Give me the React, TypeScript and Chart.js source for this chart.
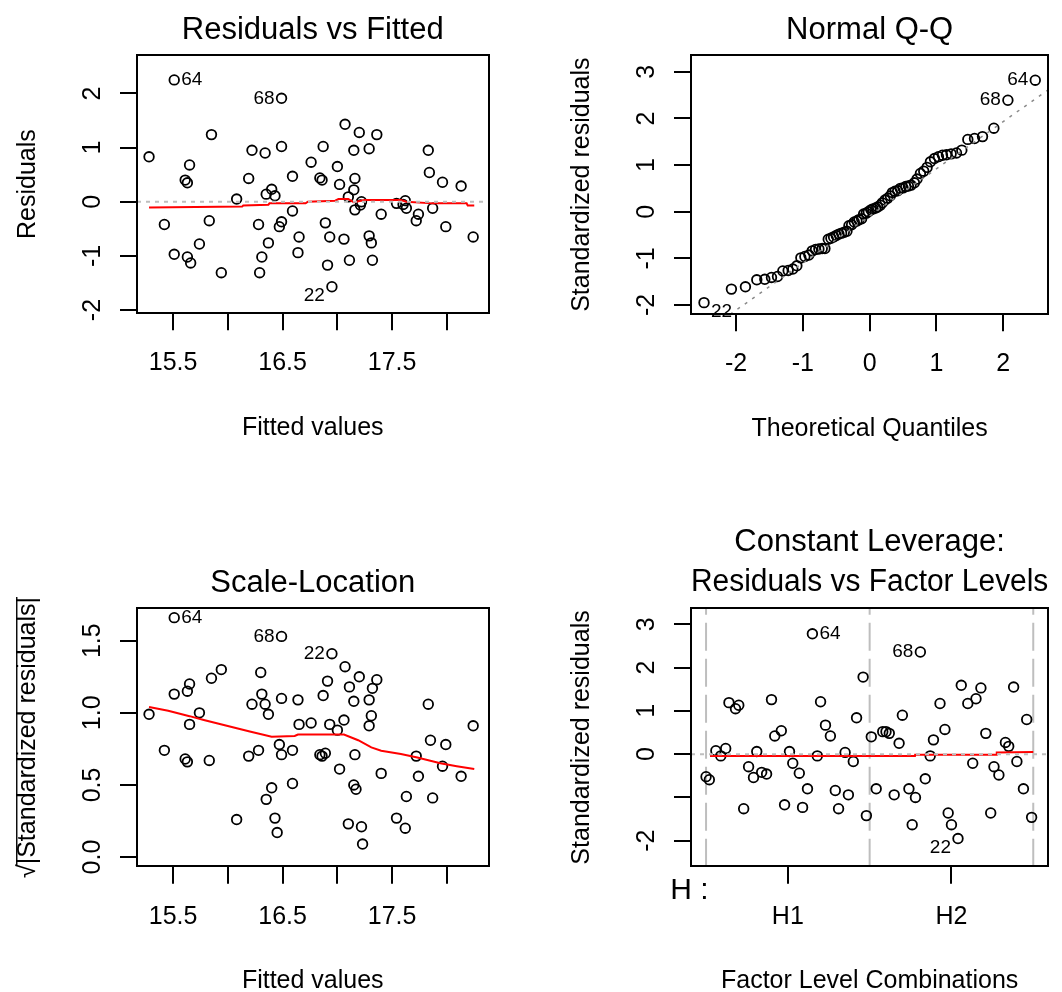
import React, { useEffect, useRef } from 'react';
import { Chart, registerables } from 'chart.js';

Chart.register(...registerables);

const FONT = '"Liberation Sans", Arial, Helvetica, sans-serif';
const TITLE_SIZE = 31;
const LABEL_SIZE = 25;
const ID_SIZE = 19;

// ---------- Panel 1: Residuals vs Fitted ----------
const rvfFitted = [
  15.28, 15.51, 15.42, 15.51, 15.65, 15.61, 15.63, 15.63, 15.66, 15.74,
  15.83, 15.85, 15.94, 16.08, 16.19, 16.22, 16.28, 16.29, 16.31, 16.34,
  16.35, 16.37, 16.40, 16.43, 16.47, 16.49, 16.49, 16.49, 16.59, 16.59,
  16.64, 16.65, 16.76, 16.84, 16.86, 16.87, 16.89, 16.91, 16.93, 16.95,
  17.00, 17.02, 17.06, 17.07, 17.11, 17.10, 17.15, 17.16, 17.15, 17.16,
  17.20, 17.22, 17.21, 17.29, 17.29, 17.31, 17.32, 17.36, 17.40, 17.54,
  17.62, 17.63, 17.72, 17.74, 17.83, 17.84, 17.87, 17.96, 17.99, 18.13,
  18.24, 17.60,
];
const rvfResiduals = [
  0.83, 2.25, -0.42, -0.97, 0.68, 0.40, 0.35, -1.02, -1.13, -0.78,
  -0.35, 1.24, -1.31, 0.05, 0.43, 0.95, -0.42, -1.31, -1.02, 0.90,
  0.14, -0.76, 0.23, 0.11, -0.46, -0.37, 1.91, 1.02, 0.47, -0.17,
  -0.94, -0.65, 0.73, 0.44, 0.40, 1.02, -0.39, -1.17, -0.65, -1.57,
  0.65, 0.32, -0.69, 1.43, -1.08, 0.09, 0.22, 0.43, 0.95, -0.15,
  1.28, 0.00, -0.06, 0.98, -0.63, -0.76, -1.08, 1.24, -0.23, -0.03,
  0.02, -0.12, -0.35, -0.23, 0.95, 0.54, -0.12, 0.36, -0.46, 0.29,
  -0.65, -0.05,
];
const rvfSmoothX = [15.28, 16.13, 16.14, 16.37, 16.38, 16.71, 16.73, 16.98, 17.01, 17.10, 17.15, 17.25, 17.58, 17.63, 17.87, 18.18, 18.19, 18.25];
const rvfSmoothY = [-0.105, -0.09, -0.07, -0.055, -0.03, -0.03, 0.0, 0.02, 0.05, 0.05, -0.01, 0.03, 0.03, 0.0, -0.03, -0.03, -0.07, -0.07];

// ---------- Panel 2: Normal Q-Q ----------
const qqTheoretical = [
  -2.48, -2.07, -1.86, -1.69, -1.57, -1.47, -1.38, -1.30, -1.22, -1.15,
  -1.09, -1.03, -0.97, -0.91, -0.86, -0.81, -0.76, -0.71, -0.67, -0.62,
  -0.58, -0.54, -0.50, -0.46, -0.42, -0.38, -0.34, -0.31, -0.27, -0.23,
  -0.19, -0.16, -0.12, -0.09, -0.05, -0.02,
  0.02, 0.05, 0.09, 0.12, 0.16, 0.19, 0.23, 0.27, 0.31, 0.34,
  0.38, 0.42, 0.46, 0.50, 0.54, 0.58, 0.62, 0.67, 0.71, 0.76,
  0.81, 0.86, 0.91, 0.97, 1.03, 1.09, 1.15, 1.22, 1.30, 1.38,
  1.47, 1.57, 1.69, 1.86, 2.07, 2.48,
];
const qqStdResiduals = [
  -1.95, -1.66, -1.61, -1.46, -1.45, -1.41, -1.39, -1.27, -1.26, -1.23,
  -1.16, -0.99, -0.96, -0.93, -0.84, -0.81, -0.80, -0.79, -0.79, -0.59,
  -0.57, -0.54, -0.51, -0.48, -0.46, -0.44, -0.42, -0.30, -0.28, -0.22,
  -0.20, -0.17, -0.15, -0.05, -0.03, 0.00,
  0.04, 0.06, 0.08, 0.10, 0.14, 0.19, 0.25, 0.29, 0.34, 0.41,
  0.44, 0.45, 0.50, 0.51, 0.54, 0.55, 0.57, 0.62, 0.70, 0.82,
  0.87, 0.95, 1.07, 1.14, 1.18, 1.21, 1.22, 1.24, 1.26, 1.32,
  1.55, 1.57, 1.61, 1.79, 2.39, 2.82,
];
const qqLineX = [-2.75, 2.75];
const qqLineY = [-2.87, 2.69];

// ---------- Panel 3: Scale-Location ----------
const slFitted = [
  15.28, 15.51, 15.42, 15.51, 15.65, 15.63, 15.65, 15.61, 15.63, 15.74,
  15.83, 15.85, 15.94, 16.08, 16.19, 16.22, 16.28, 16.30, 16.31, 16.34,
  16.37, 16.35, 16.40, 16.43, 16.45, 16.47, 16.49, 16.49, 16.49, 16.59,
  16.59, 16.64, 16.65, 16.76, 16.84, 16.86, 16.87, 16.91, 16.89, 16.93,
  16.95, 17.00, 17.02, 17.06, 17.07, 17.10, 17.11, 17.15, 17.16, 17.15,
  17.17, 17.20, 17.22, 17.23, 17.29, 17.29, 17.31, 17.32, 17.36, 17.40,
  17.54, 17.62, 17.63, 17.72, 17.74, 17.83, 17.85, 17.87, 17.96, 17.99,
  18.13, 18.24,
];
const slRootAbsStd = [
  0.99, 1.66, 0.74, 1.13, 1.20, 1.15, 0.92, 0.68, 0.66, 1.00,
  0.67, 1.24, 1.30, 0.26, 0.70, 1.06, 0.74, 1.28, 1.13, 1.06,
  0.99, 0.40, 0.48, 0.27, 0.17, 0.78, 0.71, 1.53, 1.10, 0.74,
  0.51, 1.09, 0.92, 0.93, 0.71, 0.70, 1.12, 1.22, 0.72, 0.92,
  1.41, 0.88, 0.61, 0.95, 1.32, 0.23, 1.18, 1.08, 0.71, 0.50,
  0.47, 1.25, 0.21, 0.09, 0.91, 1.09, 0.98, 1.17, 1.23, 0.58,
  0.27, 0.20, 0.42, 0.70, 0.56, 1.06, 0.81, 0.41, 0.63, 0.78,
  0.56, 0.91,
];
const slSmoothX = [15.28, 15.455, 15.65, 15.78, 15.99, 16.20, 16.40, 16.61, 16.64, 17.06, 17.19, 17.31, 17.40, 17.58, 17.73, 17.94, 18.09, 18.25];
const slSmoothY = [1.04, 1.014, 0.977, 0.95, 0.91, 0.87, 0.834, 0.84, 0.85, 0.85, 0.81, 0.76, 0.737, 0.714, 0.69, 0.65, 0.63, 0.61];

// ---------- Panel 4: Constant Leverage ----------
const rvlPosition = [
  0.50, 0.52, 0.56, 0.59, 0.62, 0.64, 0.68, 0.70, 0.73, 0.76,
  0.79, 0.81, 0.84, 0.87, 0.90, 0.92, 0.96, 0.98, 1.01, 1.03,
  1.07, 1.09, 1.12, 1.18, 1.15, 1.20, 1.23, 1.26, 1.29, 1.31,
  1.35, 1.37, 1.40, 1.42, 1.46, 1.48, 1.51, 1.54, 1.58, 1.60,
  1.62, 1.65, 1.68, 1.70, 1.74, 1.76, 1.78, 1.81, 1.84, 1.87,
  1.89, 1.93, 1.96, 1.98, 2.00, 2.04, 2.06, 2.10, 2.13, 2.15,
  2.18, 2.21, 2.24, 2.26, 2.29, 2.33, 2.35, 2.38, 2.40, 2.44,
  2.46, 2.49,
];
const rvlStdResiduals = [
  -0.52, -0.59, 0.08, -0.04, 0.13, 1.19, 1.05, 1.13, -1.26, -0.29,
  -0.54, 0.06, -0.42, -0.46, 1.26, 0.42, 0.54, -1.17, 0.06, -0.21,
  -0.44, -1.23, -0.80, -0.04, 2.78, 1.21, 0.67, 0.42, -0.84, -1.26,
  0.04, -0.94, -0.17, 0.84, 1.78, -1.42, 0.40, -0.80, 0.52, 0.52,
  0.48, -0.94, 0.25, 0.90, -0.80, -1.63, -1.00, 2.36, -0.57, -0.04,
  0.33, 1.17, 0.57, -1.36, -1.63, -1.95, 1.59, 1.17, -0.21, 1.28,
  1.53, 0.48, -1.36, -0.29, -0.48, 0.27, 0.18, 1.55, -0.17, -0.80,
  0.80, -1.46,
];
const rvlSmoothX = [0.524, 1.777, 1.778, 2.276, 2.277, 2.50];
const rvlSmoothY = [-0.04, -0.04, -0.015, -0.015, 0.04, 0.05];
const factorBoundaries = [0.5, 1.5, 2.5];
const factorTicks = [1, 2];
const factorLevels = ['H1', 'H2'];
const factorName = 'H :';

// ---------- Axis ticks ----------
const fittedTicks = [15.5, 16, 16.5, 17, 17.5, 18];
const fittedTickLabels = ['15.5', '', '16.5', '', '17.5', ''];
const residTicks = [-2, -1, 0, 1, 2];
const residTickLabels = ['-2', '-1', '0', '1', '2'];
const qqXTicks = [-2, -1, 0, 1, 2];
const qqXTickLabels = ['-2', '-1', '0', '1', '2'];
const stdTicks = [-2, -1, 0, 1, 2, 3];
const qqYTickLabels = ['-2', '-1', '0', '1', '2', '3'];
const rvlYTickLabels = ['-2', '', '0', '1', '2', '3'];
const slTicks = [0, 0.5, 1, 1.5];
const slTickLabels = ['0.0', '0.5', '1.0', '1.5'];

type IdLabel = { text: string; index: number; side: 'left' | 'right'; low?: boolean };

interface PanelSpec {
  key: string;
  box: { left: number; top: number; width: number; height: number };
  title: string | string[];
  titleLineHeight: number;
  padding: { left: number; right: number; top: number; bottom: number };
  xLabel: string;
  yLabel: string;
  xRange: [number, number];
  yRange: [number, number];
  xTicks: number[];
  xTickLabels: string[];
  yTicks: number[];
  yTickLabels: string[];
  yAxisWidth: number;
  xAxisHeight: number;
  yTickPadding: number;
  yTitlePad: number;
  xTitlePadBottom: number;
  xs: number[];
  ys: number[];
  ids: IdLabel[];
  lines: any[];
  marginText?: string;
  sqrtBar?: boolean;
}

const pts = (xs: number[], ys: number[]) => xs.map((x, i) => ({ x, y: ys[i] }));

function lineDs(xs: number[], ys: number[], color: string, width: number, dash: number[], order: number) {
  return {
    type: 'scatter',
    showLine: true,
    data: pts(xs, ys),
    borderColor: color,
    backgroundColor: color,
    borderWidth: width,
    borderDash: dash,
    pointRadius: 0,
    pointHoverRadius: 0,
    fill: false,
    tension: 0,
    order,
  };
}

function Panel({ spec }: { spec: PanelSpec }) {
  const ref = useRef<HTMLCanvasElement | null>(null);
  useEffect(() => {
    const canvas = ref.current;
    if (!canvas) return;
    const decor = {
      id: 'decor_' + spec.key,
      afterDatasetsDraw(chart: any) {
        const { ctx, scales } = chart;
        ctx.save();
        ctx.font = `${ID_SIZE}px ${FONT}`;
        ctx.fillStyle = '#000';
        ctx.textBaseline = 'middle';
        for (const id of spec.ids) {
          const px = scales.x.getPixelForValue(spec.xs[id.index]);
          const py = scales.y.getPixelForValue(spec.ys[id.index]);
          ctx.textAlign = id.side === 'left' ? 'right' : 'left';
          ctx.fillText(id.text, px + (id.side === 'left' ? -7 : 7), py + (id.low ? 9 : 0));
        }
        ctx.restore();
      },
      afterDraw(chart: any) {
        const { ctx, chartArea: a, scales } = chart;
        ctx.save();
        ctx.strokeStyle = '#000';
        ctx.lineWidth = 2;
        ctx.strokeRect(Math.round(a.left), Math.round(a.top), Math.round(a.right - a.left), Math.round(a.bottom - a.top));
        if (spec.marginText) {
          ctx.font = `30px ${FONT}`;
          ctx.fillStyle = '#000';
          ctx.textAlign = 'left';
          ctx.textBaseline = 'middle';
          ctx.fillText(spec.marginText, a.left - 20.7, a.bottom + 23.8);
        }
        if (spec.sqrtBar) {
          const ys = scales.y;
          ctx.font = `${LABEL_SIZE}px ${FONT}`;
          const w = ctx.measureText(spec.yLabel).width;
          const ws = ctx.measureText('\u221A').width;
          const cx = ys.left + (LABEL_SIZE * 1.2) / 2 + spec.yTitlePad;
          const cy = (ys.top + ys.bottom) / 2;
          const bx = cx - 0.45 * LABEL_SIZE;
          ctx.beginPath();
          ctx.moveTo(bx, cy + w / 2 - ws * 0.9);
          ctx.lineTo(bx, cy - w / 2);
          ctx.lineWidth = 1.4;
          ctx.stroke();
        }
        ctx.restore();
      },
    };

    const datasets: any[] = [
      {
        type: 'scatter',
        data: pts(spec.xs, spec.ys),
        pointStyle: 'circle',
        pointRadius: 4.8,
        pointHoverRadius: 4.8,
        pointBorderWidth: 1.8,
        pointBorderColor: '#000',
        pointBackgroundColor: 'rgba(0,0,0,0)',
        borderColor: '#000',
        backgroundColor: 'rgba(0,0,0,0)',
        showLine: false,
        order: 3,
      },
      ...spec.lines,
    ];

    const tickFont = { family: FONT, size: LABEL_SIZE, weight: 'normal' as const };
    const grid = { drawOnChartArea: false, drawTicks: true, tickLength: 17, color: '#000', lineWidth: 2 };

    const chart = new Chart(canvas, {
      type: 'scatter',
      data: { datasets },
      options: {
        responsive: false,
        maintainAspectRatio: false,
        animation: false,
        events: [],
        layout: { padding: spec.padding },
        plugins: {
          legend: { display: false },
          tooltip: { enabled: false },
          title: {
            display: true,
            text: spec.title,
            color: '#000',
            fullSize: false,
            font: { family: FONT, size: TITLE_SIZE, weight: 'normal', lineHeight: spec.titleLineHeight },
            padding: { top: 12, bottom: 5.8 },
          },
        },
        scales: {
          x: {
            type: 'linear',
            position: 'bottom',
            bounds: 'data',
            min: spec.xRange[0],
            max: spec.xRange[1],
            afterBuildTicks: (s: any) => {
              s.ticks = spec.xTicks.map((v) => ({ value: v }));
            },
            afterFit: (s: any) => {
              s.height = spec.xAxisHeight;
            },
            grid,
            border: { display: false },
            ticks: {
              autoSkip: false,
              maxRotation: 0,
              minRotation: 0,
              padding: 18,
              color: '#000',
              font: tickFont,
              callback: (_v: any, i: number) => spec.xTickLabels[i],
            },
            title: {
              display: true,
              text: spec.xLabel,
              color: '#000',
              font: { family: FONT, size: LABEL_SIZE, weight: 'normal', lineHeight: 1.2 },
              padding: { top: 0, bottom: spec.xTitlePadBottom },
            },
          },
          y: {
            type: 'linear',
            position: 'left',
            bounds: 'data',
            min: spec.yRange[0],
            max: spec.yRange[1],
            afterBuildTicks: (s: any) => {
              s.ticks = spec.yTicks.map((v) => ({ value: v }));
            },
            afterFit: (s: any) => {
              s.width = spec.yAxisWidth;
            },
            grid,
            border: { display: false },
            ticks: {
              autoSkip: false,
              minRotation: 90,
              maxRotation: 90,
              crossAlign: 'center',
              padding: spec.yTickPadding,
              color: '#000',
              font: tickFont,
              callback: (_v: any, i: number) => spec.yTickLabels[i],
            },
            title: {
              display: true,
              text: spec.yLabel,
              color: '#000',
              font: { family: FONT, size: LABEL_SIZE, weight: 'normal', lineHeight: 1.2 },
              padding: { top: spec.yTitlePad, bottom: 0 },
            },
          },
        },
      } as any,
      plugins: [decor],
    } as any);
    return () => chart.destroy();
  }, [spec]);

  return (
    <canvas
      ref={ref}
      width={spec.box.width}
      height={spec.box.height}
      style={{
        position: 'absolute',
        left: spec.box.left,
        top: spec.box.top,
        width: spec.box.width,
        height: spec.box.height,
      }}
    />
  );
}

const GRAY = '#BEBEBE';

const rvfRange: [number, number] = [15.17, 18.38];
const rvfYRange: [number, number] = [-2.06, 2.71];
const qqXRange: [number, number] = [-2.675, 2.675];
const qqYRange: [number, number] = [-2.2, 3.36];
const slYRange: [number, number] = [-0.067, 1.725];
const rvlXRange: [number, number] = [0.408, 2.592];
const rvlYRange: [number, number] = [-2.6, 3.37];

const specs: PanelSpec[] = [
  {
    key: 'rvf',
    box: { left: 0, top: 0, width: 531, height: 496 },
    title: 'Residuals vs Fitted',
    titleLineHeight: 1.2,
    padding: { left: 0, right: 42.5, top: 0, bottom: 52.7 },
    xLabel: 'Fitted values',
    yLabel: 'Residuals',
    xRange: rvfRange,
    yRange: rvfYRange,
    xTicks: fittedTicks,
    xTickLabels: fittedTickLabels,
    yTicks: residTicks,
    yTickLabels: residTickLabels,
    yAxisWidth: 137,
    xAxisHeight: 130,
    yTickPadding: 16,
    yTitlePad: 13,
    xTitlePadBottom: 0,
    xs: rvfFitted,
    ys: rvfResiduals,
    ids: [
      { text: '64', index: 1, side: 'right' },
      { text: '68', index: 26, side: 'left' },
      { text: '22', index: 39, side: 'left', low: true },
    ],
    lines: [
      lineDs(rvfSmoothX, rvfSmoothY, '#FF0000', 2, [], 2),
      lineDs(rvfRange, [0, 0], GRAY, 2, [4, 5], 1),
    ],
  },
  {
    key: 'qq',
    box: { left: 531, top: 0, width: 531, height: 496 },
    title: 'Normal Q-Q',
    titleLineHeight: 1.2,
    padding: { left: 0, right: 13.7, top: 0, bottom: 51.7 },
    xLabel: 'Theoretical Quantiles',
    yLabel: 'Standardized residuals',
    xRange: qqXRange,
    yRange: qqYRange,
    xTicks: qqXTicks,
    xTickLabels: qqXTickLabels,
    yTicks: stdTicks,
    yTickLabels: qqYTickLabels,
    yAxisWidth: 160,
    xAxisHeight: 130,
    yTickPadding: 16,
    yTitlePad: 36,
    xTitlePadBottom: 0,
    xs: qqTheoretical,
    ys: qqStdResiduals,
    ids: [
      { text: '22', index: 0, side: 'right', low: true },
      { text: '68', index: 70, side: 'left' },
      { text: '64', index: 71, side: 'left' },
    ],
    lines: [lineDs(qqLineX, qqLineY, '#8A8A8A', 1.5, [3, 6], 1)],
  },
  {
    key: 'sl',
    box: { left: 0, top: 496, width: 531, height: 496 },
    title: 'Scale-Location',
    titleLineHeight: 1.2,
    padding: { left: 0, right: 42.5, top: 57.3, bottom: 0 },
    xLabel: 'Fitted values',
    yLabel: '\u221A|Standardized residuals|',
    xRange: rvfRange,
    yRange: slYRange,
    xTicks: fittedTicks,
    xTickLabels: fittedTickLabels,
    yTicks: slTicks,
    yTickLabels: slTickLabels,
    yAxisWidth: 137,
    xAxisHeight: 125.3,
    yTickPadding: 10,
    yTitlePad: 13,
    xTitlePadBottom: -4,
    xs: slFitted,
    ys: slRootAbsStd,
    ids: [
      { text: '64', index: 1, side: 'right' },
      { text: '68', index: 27, side: 'left' },
      { text: '22', index: 40, side: 'left' },
    ],
    lines: [lineDs(slSmoothX, slSmoothY, '#FF0000', 2, [], 2)],
    sqrtBar: true,
  },
  {
    key: 'rvl',
    box: { left: 531, top: 496, width: 531, height: 496 },
    title: ['Constant Leverage:', 'Residuals vs Factor Levels'],
    titleLineHeight: 1.28,
    padding: { left: 0, right: 13.7, top: 15.1, bottom: 0 },
    xLabel: 'Factor Level Combinations',
    yLabel: 'Standardized residuals',
    xRange: rvlXRange,
    yRange: rvlYRange,
    xTicks: factorTicks,
    xTickLabels: factorLevels,
    yTicks: stdTicks,
    yTickLabels: rvlYTickLabels,
    yAxisWidth: 160,
    xAxisHeight: 125.3,
    yTickPadding: 16,
    yTitlePad: 36,
    xTitlePadBottom: -4,
    xs: rvlPosition,
    ys: rvlStdResiduals,
    ids: [
      { text: '64', index: 24, side: 'right' },
      { text: '68', index: 47, side: 'left' },
      { text: '22', index: 55, side: 'left', low: true },
    ],
    lines: [
      ...factorBoundaries.map((b) => lineDs([b, b], rvlYRange, GRAY, 2, [28, 8], 4)),
      lineDs(rvlSmoothX, rvlSmoothY, '#FF0000', 2, [], 2),
      lineDs(rvlXRange, [0, 0], GRAY, 2, [4, 5], 1),
    ],
    marginText: factorName,
  },
];

export default function App() {
  return (
    <div>
      {specs.map((s) => (
        <Panel key={s.key} spec={s} />
      ))}
    </div>
  );
}
